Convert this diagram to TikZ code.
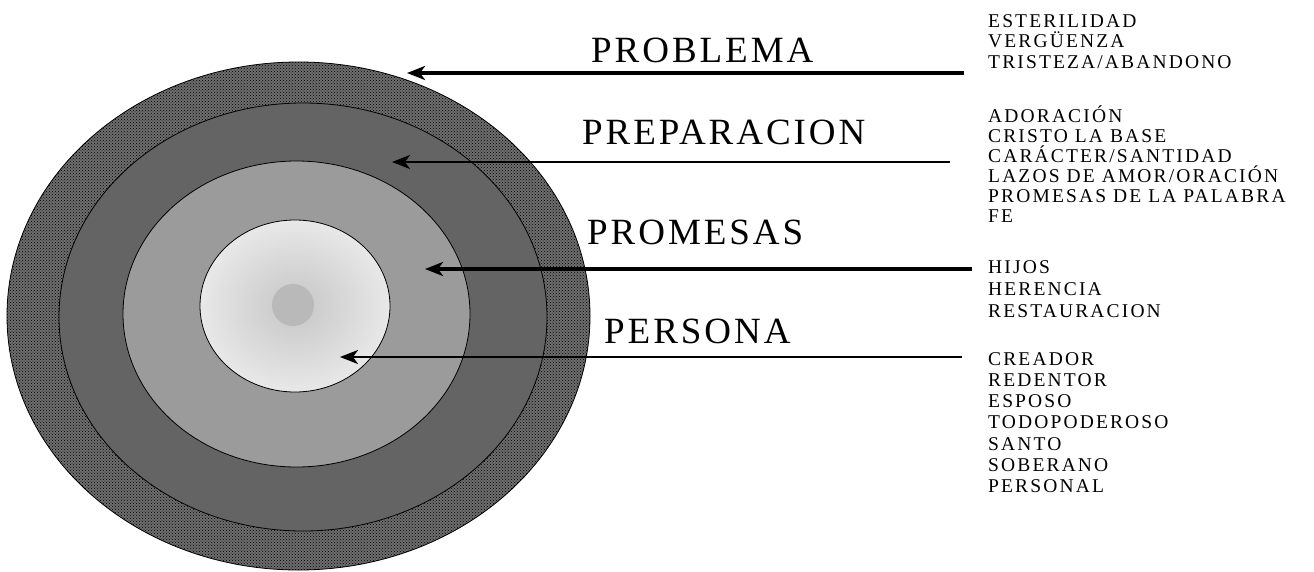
\documentclass[tikz,border=0pt]{standalone}
\usepackage{fontspec}
\setmainfont{Liberation Serif}
\newfontfamily\ringfont[LetterSpace=8]{Liberation Serif}
\newfontfamily\itemfont[LetterSpace=11]{Liberation Serif}
\usepackage{tikz}
\usetikzlibrary{arrows.meta,patterns,positioning}
\definecolor{outerring}{HTML}{6E6E6E}
\definecolor{midring}{HTML}{646464}
\definecolor{thirdring}{HTML}{9B9B9B}
\definecolor{innerring}{HTML}{E8E8E8}

\begin{document}
\begin{tikzpicture}[x=1pt,y=-1pt,
	ring/.style={draw=black,line width=0.8pt},
	title/.style={anchor=base west,inner sep=0pt,font=\ringfont\fontsize{37}{37}\selectfont},
	item/.style={anchor=base west,inner sep=0pt,font=\itemfont\fontsize{19.5}{19.5}\selectfont},
	pointer/.style={-{Stealth[length=18pt,width=14pt,inset=5pt]}}]
	\useasboundingbox (0,0) rectangle (1314,571);
	\fill[white] (0,0) rectangle (1314,571);
	
	\path[ring,fill=outerring,postaction={pattern=crosshatch dots,pattern color=black}] (298.5,316) ellipse [x radius=291.5pt,y radius=254pt];
	\path[ring,fill=midring] (303,317) ellipse [x radius=244pt,y radius=214pt];
	\path[ring,fill=thirdring] (296.5,314) ellipse [x radius=173.5pt,y radius=153pt];
	\shade[inner color=gray!45,outer color=innerring] (295,306) ellipse [x radius=95pt,y radius=86pt];
	\draw[ring] (295,306) ellipse [x radius=95pt,y radius=86pt];
	\fill[gray!55] (293,305) circle [radius=21pt];
	
	\node[title] (problema) at (591,62) {PROBLEMA};
	\node[title] (preparacion) at (582,144) {PREPARACION};
	\node[title] (promesas) at (587,244) {PROMESAS};
	\node[title] (persona) at (604,343) {PERSONA};
	
	\coordinate (problema-tip) at (407,73);
	\coordinate (problema-end) at (964,73);
	\coordinate (preparacion-tip) at (392,162);
	\coordinate (preparacion-end) at (950,162);
	\coordinate (promesas-tip) at (425,269);
	\coordinate (promesas-end) at (972,269);
	\coordinate (persona-tip) at (340,357);
	\coordinate (persona-end) at (962,357);
	\draw[pointer,line width=4pt] (problema-end) -- (problema-tip);
	\draw[pointer,line width=2.5pt] (preparacion-end) -- (preparacion-tip);
	\draw[pointer,line width=4pt] (promesas-end) -- (promesas-tip);
	\draw[pointer,line width=2.5pt] (persona-end) -- (persona-tip);
	
	\foreach \t [count=\i from 0] in {ESTERILIDAD,VERGÜENZA,TRISTEZA/ABANDONO}
		\node[item] (problema-\i) at (988,27+20.5*\i) {\t};
	\foreach \t [count=\i from 0] in {ADORACIÓN,CRISTO LA BASE,CARÁCTER/SANTIDAD,LAZOS DE AMOR/ORACIÓN,PROMESAS DE LA PALABRA,FE}
		\node[item] (preparacion-\i) at (988,122+20*\i) {\t};
	\foreach \t [count=\i from 0] in {HIJOS,HERENCIA,RESTAURACION}
		\node[item] (promesas-\i) at (988,273+22*\i) {\t};
	\foreach \t [count=\i from 0] in {CREADOR,REDENTOR,ESPOSO,TODOPODEROSO,SANTO,SOBERANO,PERSONAL}
		\node[item] (persona-\i) at (988,365+21.3*\i) {\t};
\end{tikzpicture}
\end{document}
